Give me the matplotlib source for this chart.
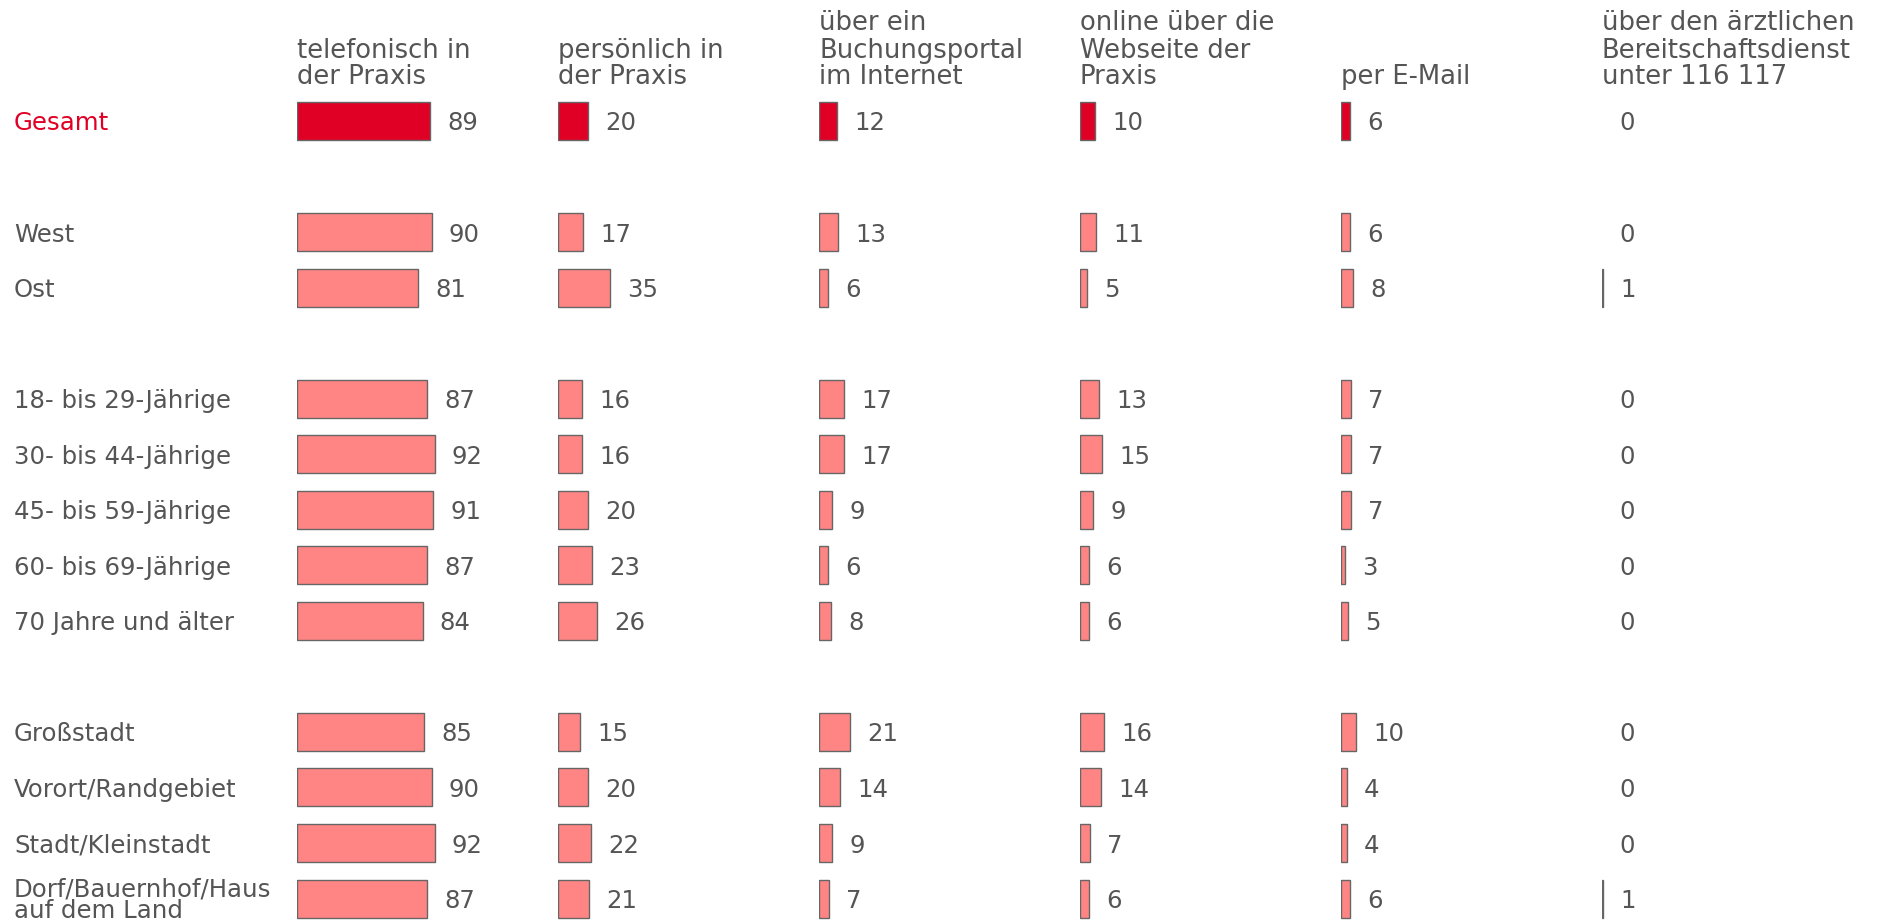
import matplotlib
matplotlib.use("Agg")
import matplotlib.pyplot as plt

# ---------------- data ----------------
columns = [
    ["telefonisch in", "der Praxis"],
    ["persönlich in", "der Praxis"],
    ["über ein", "Buchungsportal", "im Internet"],
    ["online über die", "Webseite der", "Praxis"],
    ["per E-Mail"],
    ["über den ärztlichen", "Bereitschaftsdienst", "unter 116 117"],
]
row_labels = [
    ["Gesamt"],
    ["West"], ["Ost"],
    ["18- bis 29-Jährige"], ["30- bis 44-Jährige"], ["45- bis 59-Jährige"],
    ["60- bis 69-Jährige"], ["70 Jahre und älter"],
    ["Großstadt"], ["Vorort/Randgebiet"], ["Stadt/Kleinstadt"],
    ["Dorf/Bauernhof/Haus", "auf dem Land"],
]
# group sizes (a blank row separates groups)
groups = [1, 2, 5, 4]

telefonisch = [89, 90, 81, 87, 92, 91, 87, 84, 85, 90, 92, 87]
persoenlich = [20, 17, 35, 16, 16, 20, 23, 26, 15, 20, 22, 21]
buchungsportal = [12, 13, 6, 17, 17, 9, 6, 8, 21, 14, 9, 7]
webseite = [10, 11, 5, 13, 15, 9, 6, 6, 16, 14, 7, 6]
email = [6, 6, 8, 7, 7, 7, 3, 5, 10, 4, 4, 6]
bereitschaft = [0, 0, 1, 0, 0, 0, 0, 0, 0, 0, 0, 1]
series = [telefonisch, persoenlich, buchungsportal, webseite, email, bereitschaft]

# ---------------- layout / style ----------------
W, H = 1879, 923
TXT = "#555555"
RED = "#E10025"
PINK = "#FF8585"
EDGE = "#666666"
FS = 17.6
FS_HEAD = 18.6
FS_VAL = 17.6

row_y0 = 121.0      # pixel centre of first row
row_dy = 55.54      # pixel distance between rows
px_per_unit = 1.495
col_x = [297, 558, 819, 1080, 1341, 1602]
col_w = 270

ypos = []
r = 0
for g in groups:
    for _ in range(g):
        ypos.append(r)
        r += 1
    r += 1

def px2row(py):
    return (py - row_y0) / row_dy

ylim = (px2row(H), px2row(0))

fig = plt.figure(figsize=(W / 100, H / 100), dpi=100)

# label axes (whole figure, pixel x)
lab_ax = fig.add_axes([0, 0, 1, 1])
lab_ax.set_xlim(0, W)
lab_ax.set_ylim(*ylim)
lab_ax.axis("off")
for i, (lines, y) in enumerate(zip(row_labels, ypos)):
    color = RED if i == 0 else TXT
    if len(lines) == 1:
        lab_ax.text(14, y, lines[0], ha="left", va="center_baseline",
                    fontsize=FS, color=color)
    else:
        base = y - 2.0 / row_dy
        for k, ln in enumerate(lines):
            lab_ax.text(14, base + k * 21.0 / row_dy, ln, ha="left",
                        va="baseline", fontsize=FS, color=color)

for c, (x0, vals, head) in enumerate(zip(col_x, series, columns)):
    ax = fig.add_axes([x0 / W, 0, col_w / W, 1])
    ax.set_xlim(0, col_w / px_per_unit)
    ax.set_ylim(*ylim)
    ax.axis("off")
    colors = [RED if i == 0 else PINK for i in range(len(vals))]
    lws = [1.0 if v > 0 else 0 for v in vals]
    ax.barh(ypos, vals, height=0.684, left=0, color=colors,
            edgecolor=EDGE, linewidth=lws)
    for v, y in zip(vals, ypos):
        ax.annotate(str(v), xy=(v, y), xytext=(17, 0),
                    textcoords="offset pixels", ha="left",
                    va="center_baseline", fontsize=FS_VAL, color=TXT)
    # header, bottom aligned
    last_base = 84.5
    n = len(head)
    for k, ln in enumerate(head):
        py = last_base - (n - 1 - k) * 27.0
        ax.text(0, px2row(py), ln, ha="left", va="baseline",
                fontsize=FS_HEAD, color=TXT)

fig.savefig("out.png", dpi=100, facecolor="white")
